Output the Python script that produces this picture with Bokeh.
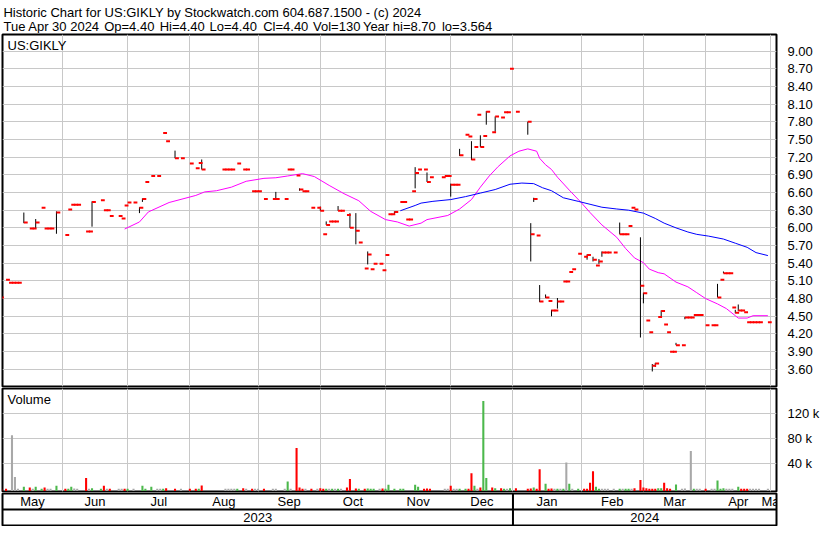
import pandas as pd
from bokeh.plotting import figure
from bokeh.models import (Range1d, FixedTicker, Label, LabelSet, ColumnDataSource,
                          Span, PrintfTickFormatter, Grid)
from bokeh.layouts import column
from bokeh.embed import file_html
from bokeh.resources import INLINE
from bokeh.core.properties import value

FONT = "Liberation Sans"
FS = "13px"

# ---------------- texts ----------------
header_line1 = "Historic Chart for US:GIKLY by Stockwatch.com 604.687.1500 - (c) 2024"
header_fields = ["Tue Apr 30 2024", "Op=4.40", "Hi=4.40", "Lo=4.40", "Cl=4.40",
                 "Vol=130", "Year hi=8.70", "lo=3.564"]
symbol = "US:GIKLY"
volume_title = "Volume"
month_labels = ["May", "Jun", "Jul", "Aug", "Sep", "Oct", "Nov", "Dec",
                "Jan", "Feb", "Mar", "Apr", "May"]
year_labels = ["2023", "2024"]
price_ticks = [3.60, 3.90, 4.20, 4.50, 4.80, 5.10, 5.40, 5.70, 6.00, 6.30,
               6.60, 6.90, 7.20, 7.50, 7.80, 8.10, 8.40, 8.70, 9.00]
vol_ticks = [40, 80, 120]
vol_tick_labels = ["40 k", "80 k", "120 k"]

# ---------------- data (x = weekday number counted from Mon 2023-05-01) ----------------
bar_day = [2, 4, 5, 6, 7, 8, 10, 12, 13, 14,
           16, 17, 18, 19, 21, 24, 25, 26, 27, 28,
           31, 32, 33, 36, 37, 38, 39, 42, 43, 44,
           45, 47, 49, 50, 51, 53, 55, 57, 58, 61,
           63, 66, 68, 69, 70, 77, 78, 79, 80, 82,
           84, 85, 87, 88, 89, 91, 94, 95, 98, 99,
           100, 102, 103, 104, 105, 107, 109, 110, 111, 112,
           113, 114, 115, 116, 117, 119, 120, 122, 123, 125,
           126, 127, 128, 130, 131, 132, 133, 134, 135, 137,
           138, 139, 140, 141, 142, 143, 145, 146, 147, 151,
           152, 153, 154, 155, 156, 157, 159, 160, 161, 162,
           163, 164, 165, 166, 168, 169, 171, 172, 173, 174,
           176, 180, 181, 182, 183, 184, 186, 187, 188, 189,
           190, 191, 192, 193, 194, 195, 197, 199, 200, 202,
           203, 204, 205, 206, 207, 209, 211, 212, 213, 214,
           215, 216, 218, 219, 220, 221, 222, 223, 224, 225,
           226, 227, 228, 229, 230, 232, 233, 234, 235, 236,
           237, 238, 240, 242, 243, 244, 245, 246, 247, 248,
           249, 250, 251, 252, 253, 254, 255, 256, 257, 258,
           261]
bar_close = [4.82, 5.12, 5.07, 5.07, 5.07, 5.07, 6.09, 5.99, 5.99, 6.09,
             6.34, 5.99, 5.99, 5.99, 6.26, 5.88, 6.31, 6.39, 6.39, 6.39,
             5.94, 5.94, 6.44, 6.47, 6.30, 6.30, 6.20, 6.20, 6.16, 6.38,
             6.43, 6.43, 6.34, 6.49, 6.78, 6.88, 6.88, 7.61, 7.47, 7.18,
             7.18, 7.09, 7.01, 7.10, 6.99, 6.99, 6.99, 6.99, 6.99, 7.09,
             6.99, 6.99, 6.62, 6.62, 6.62, 6.49, 6.49, 6.49, 6.49, 6.99,
             6.99, 6.89, 6.65, 6.62, 6.62, 6.34, 6.34, 6.29, 5.89, 6.05,
             6.11, 6.11, 6.11, 6.29, 6.29, 6.22, 6.00, 5.95, 5.75, 5.31,
             5.55, 5.30, 5.39, 5.39, 5.28, 5.54, 6.23, 6.23, 6.27, 6.44,
             6.44, 6.14, 6.14, 6.62, 6.93, 6.99, 6.99, 6.78, 6.86, 6.86,
             6.88, 6.88, 6.73, 6.73, 6.73, 7.23, 7.58, 7.55, 7.16, 7.37,
             7.92, 7.37, 7.56, 7.97, 7.62, 7.89, 7.87, 7.96, 7.96, 8.70,
             7.97, 7.80, 5.89, 6.49, 5.87, 4.75, 4.82, 4.76, 4.60, 4.60,
             4.75, 4.75, 5.09, 5.09, 5.25, 5.30, 5.56, 5.51, 5.54, 5.46,
             5.36, 5.43, 5.58, 5.58, 5.58, 5.58, 5.89, 5.89, 5.89, 6.03,
             6.34, 6.31, 5.02, 4.89, 4.43, 4.23, 3.66, 3.70, 4.49, 4.59,
             4.36, 4.23, 3.90, 3.90, 4.01, 4.01, 4.48, 4.48, 4.48, 4.52,
             4.52, 4.52, 4.35, 4.35, 4.35, 4.82, 5.12, 5.23, 5.23, 5.23,
             4.65, 4.56, 4.60, 4.60, 4.57, 4.40, 4.40, 4.40, 4.40, 4.40,
             4.40]

# days with a visible high-low range
wick_day = [10, 14, 21, 33, 49, 50, 61, 70, 95, 103,
            110, 112, 116, 120, 122, 126, 135, 142, 146, 154,
            157, 161, 164, 166, 169, 180, 181, 182, 184, 186,
            188, 190, 200, 202, 204, 205, 211, 218, 219, 222,
            223, 225, 230, 233, 244, 246, 250, 251]
wick_high = [6.26, 6.15, 6.28, 6.45, 6.35, 6.50, 7.31, 7.16, 6.61, 6.67,
             6.36, 6.11, 6.37, 6.25, 6.25, 5.60, 6.28, 7.03, 6.94, 6.75,
             7.34, 7.47, 7.57, 7.98, 7.89, 7.80, 6.08, 6.51, 5.03, 4.87,
             4.61, 4.81, 5.55, 5.51, 5.47, 5.60, 6.09, 5.84, 4.90, 3.69,
             3.71, 4.60, 4.05, 4.49, 5.05, 5.26, 4.61, 4.70]
wick_low = [6.08, 5.99, 5.90, 6.02, 6.25, 6.44, 7.18, 6.99, 6.49, 6.63,
            6.29, 6.05, 6.29, 6.00, 5.72, 5.38, 6.23, 6.67, 6.78, 6.53,
            7.22, 7.15, 7.37, 7.75, 7.63, 7.58, 5.43, 6.44, 4.74, 4.81,
            4.50, 4.63, 5.46, 5.43, 5.39, 5.51, 5.89, 4.14, 4.72, 3.564,
            3.64, 4.50, 4.01, 4.45, 4.82, 5.23, 4.55, 4.59]

# moving averages
ma_short_day = [44, 49, 52, 59, 68, 71, 75, 80, 85, 91, 95, 99, 104, 108, 113, 118,
                123, 127, 132, 136, 140, 144, 146, 153, 157, 161, 164, 167, 170, 174,
                177, 180, 183, 184, 186, 188, 190, 194, 198, 201, 205, 210, 213, 216,
                219, 221, 224, 226, 230, 234, 237, 240, 244, 247, 250, 251, 254, 256, 261]
ma_short = [5.98, 6.10, 6.27, 6.43, 6.55, 6.61, 6.63, 6.69, 6.79, 6.84, 6.85, 6.88, 6.92, 6.87,
            6.72, 6.58, 6.46, 6.28, 6.14, 6.10, 6.03, 6.08, 6.14, 6.21, 6.32, 6.48, 6.69, 6.88,
            7.04, 7.22, 7.30, 7.34, 7.30, 7.18, 7.07, 6.99, 6.86, 6.64, 6.43, 6.26, 6.05, 5.84,
            5.65, 5.49, 5.41, 5.30, 5.24, 5.22, 5.08, 5.00, 4.90, 4.80, 4.71, 4.63, 4.51, 4.47,
            4.47, 4.51, 4.51]
ma_long_day = [137, 142, 144, 148, 154, 159, 164, 169, 174, 178, 182, 185, 188, 192, 197,
               201, 205, 210, 214, 219, 223, 226, 230, 234, 237, 241, 246, 250, 254, 257, 261]
ma_long = [6.29, 6.38, 6.42, 6.45, 6.48, 6.53, 6.59, 6.65, 6.74, 6.76, 6.75, 6.68, 6.63, 6.51,
           6.45, 6.40, 6.35, 6.32, 6.30, 6.25, 6.16, 6.08, 6.00, 5.93, 5.89, 5.86, 5.81, 5.74,
           5.67, 5.58, 5.53]

# volume in thousands; direction u = up (green), d = down (red), n = unchanged (grey)
vol_day = [2, 4, 6, 7, 8, 10, 12, 13, 14, 16,
           17, 18, 19, 21, 24, 25, 26, 27, 28, 31,
           32, 33, 36, 37, 38, 39, 42, 43, 44, 45,
           47, 50, 51, 53, 55, 56, 57, 58, 61, 63,
           66, 68, 69, 70, 78, 79, 80, 81, 82, 84,
           85, 87, 88, 89, 91, 94, 95, 98, 99, 100,
           102, 103, 104, 105, 107, 109, 110, 111, 112, 113,
           114, 115, 116, 117, 119, 120, 122, 123, 125, 126,
           127, 128, 130, 131, 132, 133, 135, 137, 138, 142,
           143, 145, 146, 147, 152, 153, 154, 155, 156, 157,
           159, 160, 161, 162, 163, 164, 165, 166, 168, 169,
           171, 172, 173, 174, 176, 180, 181, 182, 183, 184,
           186, 187, 188, 189, 190, 191, 192, 193, 194, 195,
           197, 199, 200, 201, 202, 203, 204, 205, 206, 207,
           209, 211, 212, 213, 214, 215, 216, 218, 219, 220,
           221, 222, 223, 224, 225, 226, 227, 228, 230, 232,
           233, 235, 236, 237, 238, 240, 242, 243, 244, 245,
           246, 247, 248, 249, 251, 252, 253, 254, 255, 256,
           257, 258, 261]
vol_k = [0.3, 0.3, 85.6, 18.9, 0.3, 3.5, 2.0, 0.3, 3.5, 0.3,
         2.0, 0.3, 0.3, 5.0, 0.3, 0.3, 3.5, 0.5, 0.3, 17.4,
         0.3, 1.0, 0.3, 5.0, 0.3, 0.3, 0.3, 0.3, 0.3, 0.3,
         0.3, 5.0, 0.3, 3.5, 0.3, 0.3, 0.3, 1.0, 0.3, 0.3,
         0.3, 0.3, 0.3, 5.5, 0.3, 0.3, 0.3, 0.3, 0.3, 1.0,
         0.3, 0.3, 0.3, 0.3, 0.3, 0.3, 0.3, 0.3, 11.8, 0.3,
         65.5, 2.0, 0.3, 0.3, 0.3, 0.3, 1.0, 0.3, 0.3, 0.3,
         0.3, 0.3, 0.3, 0.3, 2.0, 15.8, 0.5, 0.3, 0.3, 0.5,
         0.3, 0.3, 0.3, 0.5, 0.3, 6.5, 0.3, 0.3, 0.3, 6.5,
         3.5, 0.3, 0.5, 0.3, 0.3, 0.3, 5.0, 0.3, 0.3, 0.3,
         0.3, 0.3, 25.0, 5.0, 0.3, 2.0, 140.5, 17.4, 2.0, 1.0,
         1.0, 0.3, 0.3, 1.0, 1.0, 0.3, 0.5, 2.0, 0.3, 31.2,
         8.2, 0.3, 0.5, 0.3, 0.3, 0.3, 0.3, 42.0, 8.2, 0.3,
         0.3, 0.3, 0.3, 9.7, 28.0, 3.5, 0.3, 0.3, 0.3, 0.3,
         0.3, 0.3, 0.3, 0.3, 0.3, 0.3, 1.0, 14.3, 2.0, 1.0,
         0.3, 0.3, 0.3, 1.0, 1.0, 9.7, 1.0, 0.3, 7.0, 0.3,
         0.5, 60.5, 0.3, 0.3, 0.3, 0.3, 0.3, 0.3, 13.3, 0.3,
         1.0, 0.3, 0.3, 0.3, 3.5, 0.3, 0.3, 0.3, 0.3, 0.3,
         0.3, 0.3, 0.3]
vol_dir = ["d", "d", "n", "n", "n", "u", "d", "n", "u", "u",
           "d", "n", "n", "u", "d", "u", "u", "n", "n", "d",
           "n", "u", "u", "d", "n", "d", "n", "n", "d", "u",
           "n", "u", "u", "u", "n", "n", "u", "d", "d", "n",
           "d", "d", "u", "d", "n", "n", "n", "n", "u", "d",
           "n", "d", "n", "n", "d", "n", "n", "n", "u", "n",
           "d", "d", "d", "n", "d", "n", "d", "d", "u", "n",
           "u", "n", "u", "n", "d", "d", "d", "u", "d", "u",
           "u", "u", "n", "d", "u", "u", "u", "u", "u", "u",
           "u", "d", "d", "d", "n", "n", "d", "n", "n", "u",
           "u", "d", "d", "u", "n", "d", "u", "u", "d", "u",
           "d", "u", "n", "u", "d", "d", "d", "u", "d", "d",
           "u", "d", "d", "n", "u", "n", "u", "n", "u", "n",
           "u", "d", "d", "d", "d", "u", "u", "n", "n", "n",
           "n", "u", "n", "u", "u", "n", "d", "d", "d", "d",
           "d", "d", "d", "u", "u", "d", "d", "d", "u", "n",
           "n", "n", "u", "n", "n", "d", "n", "n", "u", "u",
           "u", "n", "n", "n", "u", "d", "d", "d", "n", "n",
           "n", "n", "n"]

# ---------------- style / layout constants ----------------
FRAME_W = 774
X0, X1 = 2.8, 263.9          # visible weekday span
TICK_W = 1.3                 # close tick length in days
VOL_FLOOR = -3.5             # bars start below the zero line like the original
GRID_C = "#c8c8c8"
DIR_COLORS = {"u": "#4cb84c", "d": "#ff0000", "n": "#a8a8a8"}
HDR_H = 33
HDR_FIELD_X = [1, 108, 167, 220, 277, 330, 383, 467]   # pixel layout of the second header line

# trading calendar -> month starts
cal = pd.bdate_range("2023-05-01", "2024-05-31")
ym = list(cal.year * 100 + cal.month)
month_starts = [i for i in range(len(cal)) if i == 0 or ym[i] != ym[i - 1]]
year_start = [i for i in range(len(cal)) if cal.year[i] == 2024][0]
grid_x = [m for m in month_starts if X0 < m < X1]
bounds = [max(m, X0) for m in month_starts] + [X1]
month_pos = [(bounds[i] + bounds[i + 1]) / 2 for i in range(len(month_labels))]
year_pos = [(X0 + year_start) / 2, (year_start + X1) / 2]

xr = Range1d(X0, X1)


def base_fig(frame_h, y_range, right_axis=True):
    f = figure(frame_width=FRAME_W, frame_height=frame_h, x_range=xr, y_range=y_range,
               x_axis_location=None, y_axis_location="right" if right_axis else None,
               toolbar_location=None, output_backend="svg",
               min_border_left=2, min_border_right=38, min_border_top=1, min_border_bottom=1)
    f.grid.visible = False
    f.outline_line_color = "black"
    f.outline_line_width = 2
    f.outline_line_alpha = 1.0
    f.background_fill_color = "white"
    f.border_fill_color = "white"
    if right_axis:
        ax = f.yaxis[0]
        ax.axis_line_color = None
        ax.major_tick_line_color = None
        ax.minor_tick_line_color = None
        ax.major_label_standoff = 5
        ax.major_label_text_font = FONT
        ax.major_label_text_font_size = FS
        ax.major_label_text_color = "black"
    return f


# ---------------- header ----------------
hdr = figure(width=814, height=HDR_H, x_range=Range1d(0, 814), y_range=Range1d(0, HDR_H),
             x_axis_location=None, y_axis_location=None, toolbar_location=None,
             output_backend="svg", min_border=0)
hdr.grid.visible = False
hdr.outline_line_color = None
hdr.add_layout(Label(x=1, y=HDR_H - 12, text=header_line1, text_font=FONT, text_font_size=FS,
                     text_color="black", text_baseline="alphabetic"))
for fx, ft in zip(HDR_FIELD_X, header_fields):
    hdr.add_layout(Label(x=fx, y=HDR_H - 26, text=ft, text_font=FONT, text_font_size=FS,
                         text_color="black", text_baseline="alphabetic"))

# ---------------- price panel ----------------
p = base_fig(352, Range1d(3.309, 9.28))
p.add_layout(Grid(dimension=0, ticker=FixedTicker(ticks=grid_x), grid_line_color=GRID_C))
p.add_layout(Grid(dimension=1, ticker=FixedTicker(ticks=price_ticks), grid_line_color=GRID_C))
p.yaxis[0].ticker = FixedTicker(ticks=price_ticks)
p.yaxis[0].formatter = PrintfTickFormatter(format="%.2f")

p.line(ma_short_day, ma_short, line_color="#ff00ff", line_width=1)
p.line(ma_long_day, ma_long, line_color="#0000ff", line_width=1)
p.segment(x0=wick_day, y0=wick_low, x1=wick_day, y1=wick_high, line_color="black", line_width=1)
p.rect(x=[d + TICK_W / 2 for d in bar_day], y=bar_close, width=TICK_W, height=2,
       height_units="screen", fill_color="#ff0000", line_color=None)
p.add_layout(Label(x=X0, y=9.28, x_offset=5, y_offset=-3, text=symbol, text_font=FONT,
                   text_font_size=FS, text_color="black", text_baseline="top"))

# ---------------- volume panel ----------------
v = base_fig(103, Range1d(-4.2, 160.5))
v.add_layout(Grid(dimension=0, ticker=FixedTicker(ticks=grid_x), grid_line_color=GRID_C))
v.add_layout(Grid(dimension=1, ticker=FixedTicker(ticks=vol_ticks), grid_line_color=GRID_C))
v.yaxis[0].ticker = FixedTicker(ticks=vol_ticks)
v.yaxis[0].major_label_overrides = {t: l for t, l in zip(vol_ticks, vol_tick_labels)}
v.vbar(x=vol_day, top=vol_k, bottom=VOL_FLOOR, width=0.7,
       fill_color=[DIR_COLORS[c] for c in vol_dir], line_color=None)
v.add_layout(Label(x=X0, y=160.5, x_offset=5, y_offset=-3, text=volume_title, text_font=FONT,
                   text_font_size=FS, text_color="black", text_baseline="top"))

# ---------------- date strips ----------------
d = base_fig(32, Range1d(0, 2), right_axis=False)
d.add_layout(Span(location=1, dimension="width", line_color="black", line_width=2))
d.add_layout(Span(location=year_start, dimension="height", line_color="black", line_width=2))
msrc = ColumnDataSource(dict(x=month_pos, y=[1.5] * len(month_pos), t=month_labels))
d.add_layout(LabelSet(x="x", y="y", text="t", source=msrc, text_font=value(FONT),
                      text_font_size=value(FS), text_color="black", text_align="center",
                      text_baseline="middle"))
ysrc = ColumnDataSource(dict(x=year_pos, y=[0.5, 0.5], t=year_labels))
d.add_layout(LabelSet(x="x", y="y", text="t", source=ysrc, text_font=value(FONT),
                      text_font_size=value(FS), text_color="black", text_align="center",
                      text_baseline="middle"))

layout = column(hdr, p, v, d, spacing=0)
open("out.html", "w").write(file_html(layout, INLINE))
